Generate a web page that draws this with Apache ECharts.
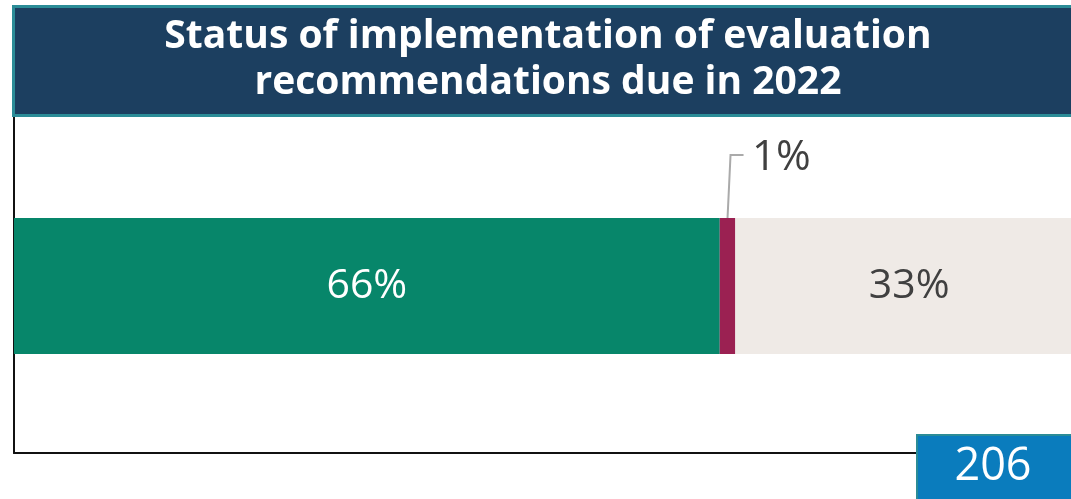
<!DOCTYPE html>
<html>
<head>
<meta charset="utf-8">
<script src="https://cdn.jsdelivr.net/npm/echarts@6/dist/echarts.min.js"></script>
<style>
html,body{margin:0;padding:0;background:#fff;}
#chart{width:1071px;height:499px;}
</style>
</head>
<body>
<div id="chart"></div>
<script>
const titleLines = ['Status of implementation of evaluation', 'recommendations due in 2022'];
const categories = ['2022'];
const seriesNames = ['Implemented', 'Not implemented', 'Outstanding'];
const seriesCounts = [136, 3, 67];
const seriesLabels = ['66%', '1%', '33%'];
const total = 206;
const colors = ['#07866a', '#9b2152', '#efeae6'];
const labelColors = ['#ffffff', '#404040', '#404040'];

const chart = echarts.init(document.getElementById('chart'));

const series = seriesNames.map((name, i) => {
  const s = {
    name: name,
    type: 'bar',
    stack: 'total',
    barWidth: 136,
    data: [seriesCounts[i]],
    itemStyle: { color: colors[i] },
    label: {
      show: true,
      position: 'inside',
      formatter: () => seriesLabels[i],
      color: labelColors[i],
      fontFamily: 'Open Sans',
      fontSize: 41,
      fontWeight: 'normal'
    },
    z: 2
  };
  if (i === 1) {
    s.label.position = 'top';
    s.label.color = '#404040';
    s.label.fontSize = 42;
    s.labelLayout = { x: 752, y: 158, align: 'left', verticalAlign: 'middle' };
  }
  return s;
});

chart.setOption({
  animation: false,
  backgroundColor: '#ffffff',
  grid: { left: 14, top: 119, width: 1069, bottom: 46, containLabel: false, outerBoundsMode: 'none' },
  xAxis: {
    type: 'value', min: 0, max: total,
    axisLine: { show: true, onZero: false, lineStyle: { color: '#111111', width: 2 } },
    axisTick: { show: false }, axisLabel: { show: false }, splitLine: { show: false }
  },
  yAxis: {
    type: 'category', data: categories,
    axisLine: { show: true, lineStyle: { color: '#111111', width: 2 } },
    axisTick: { show: false }, axisLabel: { show: false }, splitLine: { show: false }
  },
  series: series,
  graphic: [
    {
      id: 'titleBg', type: 'rect', left: 12, top: 5, z: 10,
      shape: { width: 1062, height: 109 },
      style: { fill: '#1c3f60', stroke: '#2b8c97', lineWidth: 3 }
    },
    {
      id: 'axisExt', type: 'rect', left: 13, top: 112, z: 9,
      shape: { width: 2, height: 12 },
      style: { fill: '#111111' }
    },
    {
      id: 'titleText', type: 'text', x: 548, y: 14, z: 11,
      style: {
        text: titleLines.join('\n'),
        fill: '#ffffff', font: 'bold 39px "Open Sans"', lineHeight: 46,
        align: 'center', textAlign: 'center'
      }
    },
    {
      id: 'totalBg', type: 'rect', left: 916, top: 434, z: 10,
      shape: { width: 160, height: 70 },
      style: { fill: '#0a7cbd', stroke: '#2b8c97', lineWidth: 2 }
    },
    {
      id: 'totalText', type: 'text', x: 993, y: 467, z: 11,
      style: { text: String(total), fill: '#ffffff', font: '45px "Open Sans"', textAlign: 'center', textVerticalAlign: 'middle' }
    }
  ]
});

// leader line for the small segment, placed through the chart's scales
const midVal = seriesCounts[0] + seriesCounts[1] / 2;
const barMid = chart.convertToPixel({ gridIndex: 0 }, [midVal, categories[0]]);
const topY = barMid[1] - 136 / 2;
chart.setOption({
  graphic: [{
    id: 'leader', type: 'polyline', z: 12,
    shape: { points: [[barMid[0], topY], [barMid[0] + 3, 155], [barMid[0] + 16, 155]] },
    style: { stroke: '#aaaaaa', lineWidth: 2, fill: null }
  }]
});
</script>
</body>
</html>
